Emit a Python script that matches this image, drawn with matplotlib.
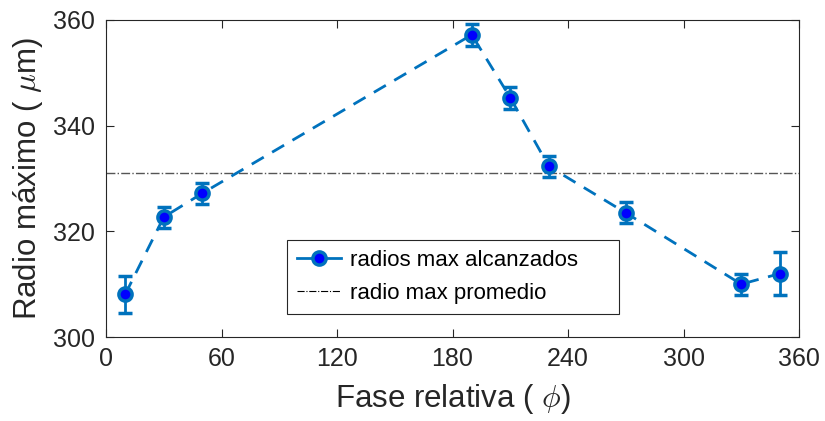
import numpy as np
import matplotlib.pyplot as plt
from matplotlib.lines import Line2D

plt.rcParams['font.family'] = ['Liberation Sans', 'DejaVu Sans']
plt.rcParams['mathtext.fontset'] = 'cm'

# fase relativa (grados) y radio maximo alcanzado (um)
fase = [10, 30, 50, 190, 210, 230, 270, 330, 350]
radio = [308.1, 322.7, 327.2, 357.2, 345.3, 332.3, 323.5, 310.0, 312.0]
error = [3.5, 2.0, 2.0, 2.1, 2.1, 2.0, 2.0, 2.0, 4.0]
radio_promedio = 331.1

azul = '#0072BD'
gris = '#262626'

fig = plt.figure(figsize=(8.25, 4.21), dpi=100)
ax = fig.add_axes([0.1285, 0.1995, 0.84, 0.753])

ax.errorbar(fase, radio, yerr=error, fmt='o--', color=azul, lw=2,
            ms=9.5, mfc='blue', mec=azul, mew=2.5, ecolor=azul,
            elinewidth=2, capsize=5, capthick=2, dashes=(5, 3.5))
ax.axhline(radio_promedio, color='#555555', lw=1, ls='-.')

ax.set_xlim(0, 360)
ax.set_ylim(300, 360)
ax.set_xticks(np.arange(0, 361, 60))
ax.set_yticks(np.arange(300, 361, 20))
ax.tick_params(direction='in', top=True, right=True, length=6,
               labelsize=18, color=gris, labelcolor=gris)
ax.tick_params(axis='y', pad=8)
ax.tick_params(axis='x', pad=7)
for s in ax.spines.values():
    s.set_color(gris)
    s.set_linewidth(0.8)

ax.set_xlabel(r'Fase relativa ( $\phi$)', fontsize=22.5, color=gris, labelpad=8)
ax.set_ylabel(r'Radio máximo ( $\mu$m)', fontsize=22.5, color=gris, labelpad=6)

handles = [
    Line2D([], [], color=azul, lw=2, marker='o', ms=9.5, mfc='blue',
           mec=azul, mew=2.5),
    Line2D([], [], color='black', lw=0.8, ls='-.'),
]
labels = ['radios max alcanzados', 'radio max promedio']
leg = ax.legend(handles, labels, loc='lower left',
                bbox_to_anchor=(0.261, 0.072, 0.479, 0.236),
                mode='expand', fontsize=16, fancybox=False, framealpha=1,
                edgecolor=gris, handlelength=2.0, handletextpad=0.4,
                borderaxespad=0, labelspacing=0.55, borderpad=0.45)
leg.get_frame().set_linewidth(0.8)

fig.savefig('out.png', dpi=100)
